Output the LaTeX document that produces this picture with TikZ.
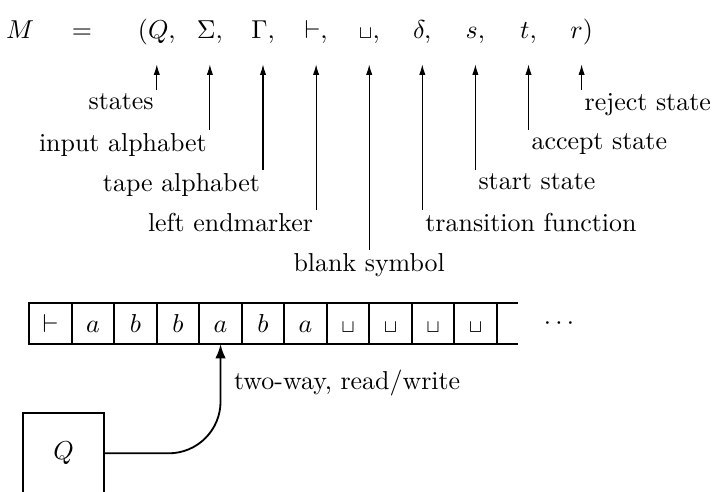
\documentclass[tikz,border=0pt]{standalone}
\usetikzlibrary{arrows.meta}
\newcommand\blnk{{\scriptstyle\sqcup}}
\begin{document}
\begin{tikzpicture}[x=0.386pt,y=-0.386pt,
  tuple/.style={anchor=base, inner xsep=0pt, inner ysep=10pt, text depth=0pt},
  lab/.style={inner sep=1pt},
  pointer/.style={-{Latex[length=4pt,width=2.4pt]}, line width=0.4pt},
  cell/.style={draw, line width=0.7pt, minimum width=16.4pt, minimum height=15.95pt,
    inner sep=0pt, outer sep=0pt, text height=7pt, text depth=0pt},
  tapeline/.style={line width=0.7pt},
  headlink/.style={-{Latex[length=5.5pt,width=4pt]}, line width=0.7pt, rounded corners=20pt}]
\clip (0,0) rectangle (713,491);

% the machine as a tuple
\node[tuple] (M)  at (20,38)    {$M$};
\node[tuple] (eq) at (82,38)    {$=$};
\node[tuple] (tQ) at (156.8,38) {$(Q,$};
\node[tuple] (tS) at (209.9,38) {$\Sigma,$};
\node[tuple] (tG) at (263.0,38) {$\Gamma,$};
\node[tuple] (tL) at (316.1,38) {$\vdash,$};
\node[tuple] (tB) at (369.2,38) {$\blnk,$};
\node[tuple] (tD) at (422.3,38) {$\delta,$};
\node[tuple] (ts) at (475.4,38) {$s,$};
\node[tuple] (tt) at (528.5,38) {$t,$};
\node[tuple] (tr) at (581.6,38) {$r)$};

% component names
\node[lab, anchor=north east] (lQ) at (156.8,90)  {states};
\node[lab, anchor=north east] (lS) at (209.9,130) {input alphabet};
\node[lab, anchor=north east] (lG) at (263.0,170) {tape alphabet};
\node[lab, anchor=north east] (lL) at (316.1,210) {left endmarker};
\node[lab, anchor=north]      (lB) at (369.2,250) {blank symbol};
\node[lab, anchor=north west] (lD) at (422.3,210) {transition function};
\node[lab, anchor=north west] (ls) at (475.4,170) {start state};
\node[lab, anchor=north west] (lt) at (528.5,130) {accept state};
\node[lab, anchor=north west] (lr) at (581.6,90)  {reject state};

\draw[pointer] (lQ.north east) -- (tQ.south);
\draw[pointer] (lS.north east) -- (tS.south);
\draw[pointer] (lG.north east) -- (tG.south);
\draw[pointer] (lL.north east) -- (tL.south);
\draw[pointer] (lB.north)      -- (tB.south);
\draw[pointer] (lD.north west) -- (tD.south);
\draw[pointer] (ls.north west) -- (ts.south);
\draw[pointer] (lt.north west) -- (tt.south);
\draw[pointer] (lr.north west) -- (tr.south);

% the tape
\node[cell] (c0)  at (50.55,323.4)  {$\vdash$};
\node[cell] (c1)  at (93.05,323.4)  {$a$};
\node[cell] (c2)  at (135.55,323.4) {$b$};
\node[cell] (c3)  at (178.05,323.4) {$b$};
\node[cell] (c4)  at (220.55,323.4) {$a$};
\node[cell] (c5)  at (263.05,323.4) {$b$};
\node[cell] (c6)  at (305.55,323.4) {$a$};
\node[cell] (c7)  at (348.05,323.4) {$\blnk$};
\node[cell] (c8)  at (390.55,323.4) {$\blnk$};
\node[cell] (c9)  at (433.05,323.4) {$\blnk$};
\node[cell] (c10) at (475.55,323.4) {$\blnk$};
\coordinate (topend) at (517.7,302.7);
\coordinate (botend) at (517.7,344.1);
\draw[tapeline] (c10.north east) -- (c10.north east -| topend);
\draw[tapeline] (c10.south east) -- (c10.south east -| botend);
\node (dots) at (559,323.4) {$\cdots$};

% finite control and its head
\node[draw, line width=0.7pt, minimum width=31.2pt, minimum height=31.3pt, inner sep=0pt, outer sep=0pt]
  (Qbox) at (63.7,453.3) {$Q$};
\draw[headlink] (Qbox.east) -| (c4.south);
\node[lab, anchor=west] (rw) at (231,383) {two-way, read/write};
\end{tikzpicture}
\end{document}
